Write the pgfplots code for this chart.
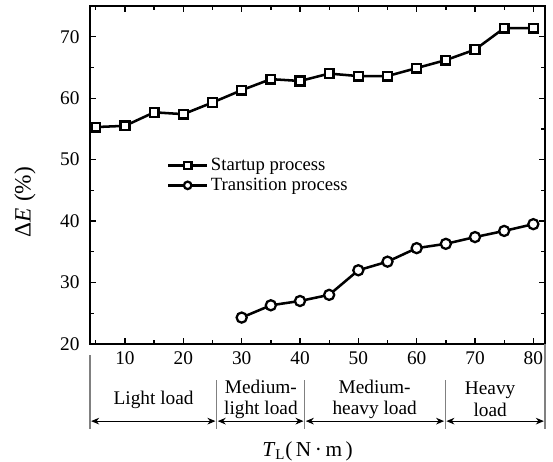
\documentclass[border=0pt]{standalone}
\usepackage{fontspec}
\setmainfont{Liberation Serif}
\usepackage{pgfplots}
\pgfplotsset{compat=1.18}
\usetikzlibrary{arrows.meta}

\begin{document}
\fontsize{14}{16}\selectfont
\begin{tikzpicture}
\path[use as bounding box] (-67.5pt,-87.75pt) rectangle (347.25pt,258pt);
\begin{axis}[
  at={(0,0)}, anchor=south west,
  scale only axis, width=341.25pt, height=253.5pt,
  xmin=4, xmax=82, ymin=20, ymax=75,
  xtick={10,20,...,80}, minor xtick={5,15,...,75},
  ytick={20,30,...,70}, minor ytick={25,35,...,75},
  tick align=inside, major tick length=4.5pt, minor tick length=3pt,
  axis line style={line width=1pt}, tick style={line width=1pt, black},
  /pgf/number format/assume math mode=true,
  tick label style={font=\fontsize{14.5}{16}\selectfont},
  xticklabel style={yshift=-1pt},
  yticklabel style={xshift=-3pt},
  clip=false,
  legend style={at={(0.16,0.567)}, anchor=north west, draw=none, fill=none,
    font=\fontsize{14}{16}\selectfont, row sep=-0.5pt},
  legend cell align=left,
  legend image code/.code={
    \draw[#1, mark=none, line width=1.9pt] (0pt,0pt) -- (29pt,0pt);
    \draw[#1, only marks, mark size=2.8pt] plot coordinates {(14.5pt,0pt)};
  },
]
\addplot[line width=1.9pt, mark=square*, mark size=3.3pt,
  mark options={fill=white, line width=1.7pt}]
  coordinates {(5,55.3)(10,55.5)(15,57.7)(20,57.4)(25,59.3)(30,61.3)(35,63.1)(40,62.8)
    (45,64.0)(50,63.6)(55,63.6)(60,64.9)(65,66.2)(70,67.9)(75,71.4)(80,71.4)};
\addplot[line width=1.9pt, mark=*, mark size=3.8pt,
  mark options={fill=white, line width=1.7pt}]
  coordinates {(30,24.3)(35,26.3)(40,27.0)(45,28.0)(50,32.0)(55,33.4)(60,35.6)
    (65,36.3)(70,37.4)(75,38.4)(80,39.5)};
\legend{Startup process, Transition process}

% y label
\node[rotate=90, font=\fontsize{17.5}{19}\selectfont]
  at (axis description cs:-0.143,0.42) {Δ\textit{E}\ (\%)};

% load-range annotations below the axis
\draw[gray, line width=0.8pt] (axis cs:4,18.2) -- (axis cs:4,6.2);
\draw[gray, line width=0.8pt] (axis cs:25.7,14.1) -- (axis cs:25.7,6.2);
\draw[gray, line width=0.8pt] (axis cs:40.8,14.1) -- (axis cs:40.8,6.2);
\draw[gray, line width=0.8pt] (axis cs:64.9,14.1) -- (axis cs:64.9,6.2);
\draw[gray, line width=0.8pt] (axis cs:82,20) -- (axis cs:82,6.2);
\draw[{Stealth[length=6pt,width=5pt]}-{Stealth[length=6pt,width=5pt]}, line width=0.7pt]
  (axis cs:4.2,7.45) -- (axis cs:25.5,7.45);
\draw[{Stealth[length=6pt,width=5pt]}-{Stealth[length=6pt,width=5pt]}, line width=0.7pt]
  (axis cs:25.9,7.45) -- (axis cs:40.6,7.45);
\draw[{Stealth[length=6pt,width=5pt]}-{Stealth[length=6pt,width=5pt]}, line width=0.7pt]
  (axis cs:41.0,7.45) -- (axis cs:64.7,7.45);
\draw[{Stealth[length=6pt,width=5pt]}-{Stealth[length=6pt,width=5pt]}, line width=0.7pt]
  (axis cs:65.1,7.45) -- (axis cs:81.8,7.45);
\node[align=center, font=\fontsize{14.5}{16}\selectfont] at (axis cs:14.9,10.9) {Light load};
\node[align=center, font=\fontsize{14.5}{16}\selectfont] at (axis cs:33.3,11.0) {Medium-\\light load};
\node[align=center, font=\fontsize{14.5}{16}\selectfont] at (axis cs:52.8,11.0) {Medium-\\heavy load};
\node[align=center, font=\fontsize{14.5}{16}\selectfont] at (axis cs:72.6,11.0) {Heavy\\load};
\node[font=\fontsize{16}{18}\selectfont] at (axis cs:41.3,2.6)
  {\textit{T}\textsubscript{L}(\,N\,·\,m\,)};
\end{axis}
\end{tikzpicture}
\end{document}
